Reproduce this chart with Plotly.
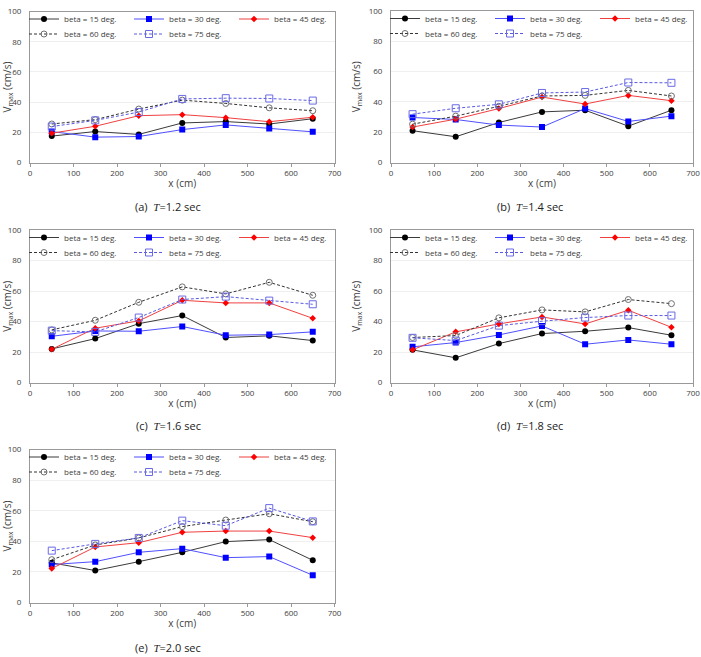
import plotly.graph_objects as go

W, H = 701, 657

x_cm = [50, 150, 250, 350, 450, 550, 650]
series_names = ["beta = 15 deg.", "beta = 30 deg.", "beta = 45 deg.", "beta = 60 deg.", "beta = 75 deg."]
panel_captions = ["(a)", "(b)", "(c)", "(d)", "(e)"]
panel_periods = ["1.2", "1.4", "1.6", "1.8", "2.0"]

# T = 1.2 sec
a_b15 = [17.5, 20.5, 18.6, 26.2, 27.1, 25.5, 29.0]
a_b30 = [20.5, 16.8, 17.2, 21.8, 24.9, 22.5, 20.3]
a_b45 = [19.4, 24.0, 31.0, 31.7, 29.7, 27.0, 30.0]
a_b60 = [25.5, 28.4, 35.4, 41.3, 39.1, 36.2, 34.3]
a_b75 = [23.8, 27.9, 33.4, 42.1, 42.6, 42.4, 41.0]
# T = 1.4 sec
b_b15 = [21.0, 17.0, 26.4, 33.4, 34.5, 24.0, 34.5]
b_b30 = [29.7, 28.4, 24.7, 23.4, 35.6, 27.1, 30.6]
b_b45 = [23.4, 28.6, 35.6, 43.2, 38.6, 44.3, 40.8]
b_b60 = [25.3, 30.6, 37.1, 43.9, 44.3, 47.6, 43.9]
b_b75 = [31.9, 35.8, 38.4, 45.9, 46.5, 52.8, 52.6]
# T = 1.6 sec
c_b15 = [22.0, 28.8, 38.6, 43.9, 29.5, 30.6, 27.5]
c_b30 = [30.3, 33.8, 33.6, 36.7, 31.0, 31.4, 33.2]
c_b45 = [21.8, 35.6, 40.4, 53.9, 52.2, 52.2, 42.1]
c_b60 = [34.5, 40.8, 52.6, 62.7, 58.1, 65.7, 57.2]
c_b75 = [34.0, 33.2, 42.6, 54.4, 56.3, 53.7, 51.3]
# T = 1.8 sec
d_b15 = [21.4, 16.2, 25.5, 32.1, 33.6, 36.0, 31.0]
d_b30 = [23.4, 26.2, 31.2, 37.1, 25.1, 27.9, 25.1]
d_b45 = [21.4, 33.2, 38.4, 43.0, 38.4, 47.4, 36.2]
d_b60 = [29.5, 30.8, 42.4, 47.6, 46.3, 54.4, 51.7]
d_b75 = [29.3, 27.5, 37.3, 40.2, 42.6, 43.9, 43.9]
# T = 2.0 sec
e_b15 = [25.9, 20.9, 26.7, 32.8, 39.8, 41.1, 27.6]
e_b30 = [24.8, 26.7, 32.8, 35.2, 29.3, 30.0, 17.8]
e_b45 = [22.2, 36.3, 39.1, 45.9, 46.7, 46.7, 42.4]
e_b60 = [28.0, 37.6, 42.2, 49.6, 53.9, 58.0, 52.8]
e_b75 = [33.9, 38.3, 42.2, 53.5, 50.2, 61.7, 53.0]

panels = [
    [a_b15, a_b30, a_b45, a_b60, a_b75],
    [b_b15, b_b30, b_b45, b_b60, b_b75],
    [c_b15, c_b30, c_b45, c_b60, c_b75],
    [d_b15, d_b30, d_b45, d_b60, d_b75],
    [e_b15, e_b30, e_b45, e_b60, e_b75],
]

# pixel boxes (left, top, right, bottom)
boxes = [
    (30, 11.5, 334.5, 162.5),
    (391, 11.0, 693.0, 162.5),
    (30, 230, 334.5, 382.5),
    (391, 230, 693.0, 382.5),
    (30, 449.5, 334.5, 602.5),
]
caption_pos = [(168, 207), (530, 207), (168, 425), (530, 425), (168, 647)]

styles = [
    dict(marker=dict(symbol="circle", size=6, color="#000000"),
         line=dict(color="#3a3a3a", width=1)),
    dict(marker=dict(symbol="square", size=6, color="#0000ff"),
         line=dict(color="#4f4fff", width=1)),
    dict(marker=dict(symbol="diamond", size=5, color="#ff0000"),
         line=dict(color="#f04040", width=1)),
    dict(marker=dict(symbol="circle-open", size=6, color="#707070", line=dict(width=1)),
         line=dict(color="#333333", width=1, dash="3px,2px")),
    dict(marker=dict(symbol="square-open", size=7, color="#6a6ae6", line=dict(width=1)),
         line=dict(color="#5a5ae0", width=1, dash="3px,2px")),
]

def fx(p):
    return p / W

def fy(p):
    return 1 - p / H

FONT = "Open Sans"
fig = go.Figure()
layout = dict(
    width=W, height=H, margin=dict(l=0, r=0, t=0, b=0, autoexpand=False),
    paper_bgcolor="white", plot_bgcolor="white",
    font=dict(family=FONT, size=8, color="#404040"),
    annotations=[],
)

for i, (vals, box) in enumerate(zip(panels, boxes)):
    n = i + 1
    xa = "x" if n == 1 else f"x{n}"
    ya = "y" if n == 1 else f"y{n}"
    l1 = "legend" if i == 0 else f"legend{2 * i + 1}"
    l2 = f"legend{2 * i + 2}"
    for k, (name, v) in enumerate(zip(series_names, vals)):
        st = styles[k]
        fig.add_trace(go.Scatter(
            x=x_cm, y=v, name=name, mode="lines+markers",
            xaxis=xa, yaxis=ya, legend=l1 if k < 3 else l2,
            marker=st["marker"], line=st["line"],
        ))
    left, top, right, bottom = box
    xkey = "xaxis" if n == 1 else f"xaxis{n}"
    ykey = "yaxis" if n == 1 else f"yaxis{n}"
    layout[xkey] = dict(
        domain=[fx(left), fx(right)], anchor=ya, range=[0, 700], dtick=100,
        showline=True, mirror=True, linecolor="#999999", linewidth=1,
        ticks="outside", ticklen=3, tickcolor="#999999", showgrid=False, zeroline=False,
        tickfont=dict(size=8, color="#404040"), automargin=False,
        ticklabeloverflow="allow",
        title=dict(text="x (cm)", font=dict(size=10, color="#404040"), standoff=2),
    )
    layout[ykey] = dict(
        domain=[fy(bottom), fy(top)], anchor=xa, range=[0, 100], dtick=20,
        showline=True, mirror=True, linecolor="#999999", linewidth=1,
        ticks="", showgrid=True, gridcolor="#efefef", gridwidth=1, zeroline=False,
        ticklabelstandoff=6, automargin=False,
        tickfont=dict(size=8, color="#404040"),
        title=dict(text="V<sub>max</sub> (cm/s)", font=dict(size=10, color="#404040"), standoff=6),
    )
    for row, lkey in enumerate([l1, l2]):
        ypix = top + (7.5 if row == 0 else 22.5)
        layout[lkey] = dict(
            orientation="h", x=fx(left - 6), y=fy(ypix), xanchor="left", yanchor="middle",
            xref="paper", yref="paper",
            entrywidth=60, entrywidthmode="pixels",
            bgcolor="rgba(0,0,0,0)", borderwidth=0,
            font=dict(size=8, color="#404040", family=FONT),
            tracegroupgap=0, itemwidth=30,
        )
    cx, cy = caption_pos[i]
    layout["annotations"].append(dict(
        x=fx(cx), y=fy(cy), xref="paper", yref="paper", showarrow=False,
        xanchor="center", yanchor="middle",
        text=f"{panel_captions[i]}  <i style='font-family:Liberation Serif'>T</i>={panel_periods[i]} sec",
        font=dict(size=11, color="#222222", family=FONT),
    ))

fig.update_layout(**layout)
fig.write_html("out.html")
